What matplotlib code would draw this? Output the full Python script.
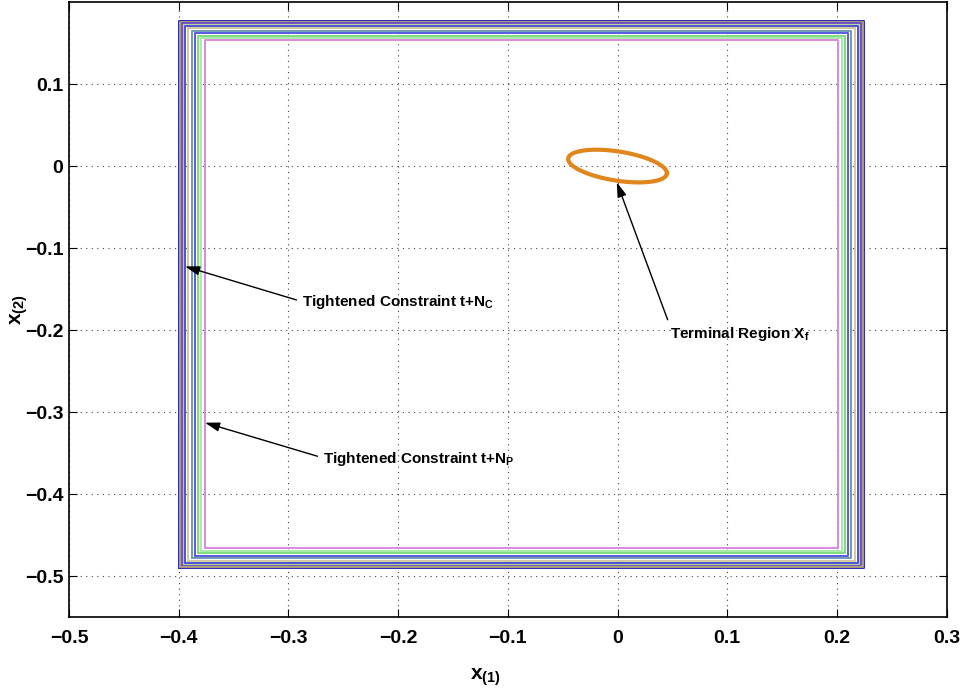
import matplotlib
matplotlib.use("Agg")
import matplotlib.pyplot as plt
import numpy as np

# nested tightened-constraint boxes (outer -> inner)
box_left = -0.4
box_right = 0.225
box_bottom = -0.49
box_top = 0.177
shrink = [0.0, 0.0015, 0.003, 0.0048, 0.0061, 0.0085, 0.0121, 0.0149, 0.0179, 0.0203, 0.0237]
box_colors = ['#2a2ab5', '#a89f72', '#6f4fc8', '#b5d6a0', '#4f52d0', '#d2c8a0',
              '#6f9ab5', '#5a5ae0', '#7fdc7f', '#a8eaa8', '#d78ae0']

# terminal region ellipse parameters
ell_a = 0.045
ell_b = 0.018
ell_tilt = -0.0086

xticks = [-0.5, -0.4, -0.3, -0.2, -0.1, 0, 0.1, 0.2, 0.3]
yticks = [-0.5, -0.4, -0.3, -0.2, -0.1, 0, 0.1]
xticklabels = ['\u22120.5', '\u22120.4', '\u22120.3', '\u22120.2', '\u22120.1', '0', '0.1', '0.2', '0.3']
yticklabels = ['\u22120.5', '\u22120.4', '\u22120.3', '\u22120.2', '\u22120.1', '0', '0.1']

plt.rcParams['font.family'] = ['Liberation Sans', 'DejaVu Sans']
plt.rcParams['font.weight'] = 'bold'
plt.rcParams['mathtext.fontset'] = 'custom'
plt.rcParams['mathtext.rm'] = 'Liberation Sans:bold'
plt.rcParams['mathtext.it'] = 'Liberation Sans:bold'
plt.rcParams['mathtext.bf'] = 'Liberation Sans:bold'

fig = plt.figure(figsize=(9.64, 6.96), dpi=100)
ax = fig.add_axes([0.0716, 0.1135, 0.9104, 0.8835])

for m, c in zip(shrink, box_colors):
    xs = [box_left + m, box_right - m, box_right - m, box_left + m, box_left + m]
    ys = [box_bottom + m, box_bottom + m, box_top - m, box_top - m, box_bottom + m]
    ax.plot(xs, ys, color=c, linewidth=1.4)

t = np.linspace(0, 2 * np.pi, 300)
ax.plot(ell_a * np.cos(t), ell_b * np.sin(t) + ell_tilt * np.cos(t),
        color='#e0861c', linewidth=3)

arrow = dict(arrowstyle='-|>,head_length=0.8,head_width=0.25', color='black',
             lw=1, shrinkA=2, shrinkB=0)
ax.annotate(r'Tightened Constraint t+N$_\mathrm{C}$', xy=(-0.3943, -0.1224),
            xytext=(-0.2877, -0.1664), fontsize=11, fontweight='bold',
            ha='left', va='center', arrowprops=dict(arrow, relpos=(0, 0.55)))
ax.annotate(r'Tightened Constraint t+N$_\mathrm{P}$', xy=(-0.3761, -0.313),
            xytext=(-0.2686, -0.357), fontsize=11, fontweight='bold',
            ha='left', va='center', arrowprops=dict(arrow, relpos=(0, 0.55)))
ax.annotate(r'Terminal Region X$_\mathrm{f}$', xy=(-0.0007, -0.0198),
            xytext=(0.0475, -0.205), fontsize=11, fontweight='bold',
            ha='left', va='center', arrowprops=dict(arrow, relpos=(0, 1)))

ax.set_xlim(-0.5, 0.3)
ax.set_ylim(-0.55, 0.2)
ax.set_xticks(xticks)
ax.set_yticks(yticks)
ax.set_xticklabels(xticklabels)
ax.set_yticklabels(yticklabels)
ax.tick_params(direction='in', length=6, labelsize=14, top=True, right=True)
ax.tick_params(axis='x', pad=9)
ax.tick_params(axis='y', pad=4)
ax.grid(True, linestyle=(0, (1, 4)), color='#444444', linewidth=0.8)
for s in ax.spines.values():
    s.set_linewidth(1.2)

ax.set_xlabel(r'x$_\mathrm{(1)}$', fontsize=15, fontweight='bold')
ax.set_ylabel(r'x$_\mathrm{(2)}$', fontsize=15, fontweight='bold')
ax.xaxis.set_label_coords(0.475, -0.08)
ax.yaxis.set_label_coords(-0.045, 0.5)

fig.savefig('out.png', dpi=100)
